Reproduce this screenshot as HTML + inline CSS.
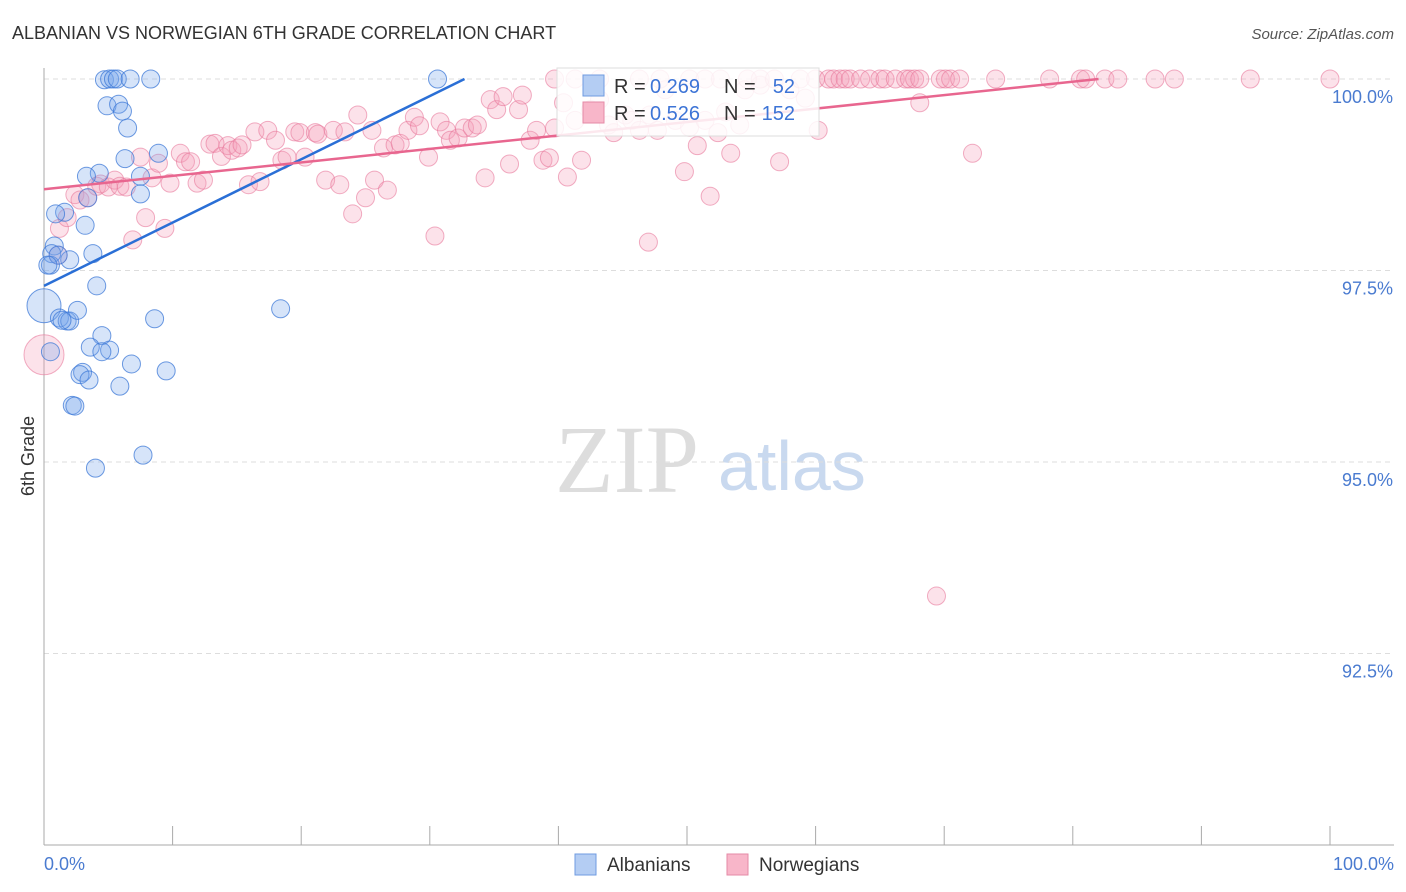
<!DOCTYPE html>
<html><head><meta charset="utf-8"><style>
body{margin:0;background:#fff;font-family:"Liberation Sans",sans-serif}
#wrap{position:relative;width:1406px;height:892px;overflow:hidden}
</style></head><body>
<div id="wrap">
<svg id="svg" width="1406" height="892" xmlns="http://www.w3.org/2000/svg">
<text x="12" y="39" font-size="18" fill="#333">ALBANIAN VS NORWEGIAN 6TH GRADE CORRELATION CHART</text>
<text x="1394" y="39" font-size="15" fill="#555" font-style="italic" text-anchor="end">Source: ZipAtlas.com</text>
<text x="34" y="456" font-size="18" fill="#333" transform="rotate(-90 34 456)" text-anchor="middle">6th Grade</text>
<text x="555" y="492" font-size="96" fill="#ddd" font-family="Liberation Serif,serif">ZIP</text>
<text x="718" y="490" font-size="70" fill="#c9d9ef">atlas</text>
<g id="grid"></g><g id="pts"></g><g id="lines"></g>
</svg>
</div>
<script>
const yTicks=[100,97.5,95,92.5];
const yTickLabels=["100.0%","97.5%","95.0%","92.5%"];
const blueX=[4.7,5.1,5.4,5.7,6.7,8.3,30.6,4.9,5.8,6.1,6.5,6.3,8.9,4.3,3.3,7.5,1.6,0.9,7.5,3.4,3.2,0.8,0.6,2.0,3.8,0.5,4.1,0.0,1.2,1.8,2.0,2.6,18.4,8.6,4.5,3.6,5.1,4.5,0.5,3.0,2.8,3.5,6.8,9.5,5.9,2.2,2.4,4.0,7.7,1.4,1.1,0.3];
const blueY=[99.99,100,100,100,100,100,100,99.65,99.67,99.58,99.36,98.96,99.03,98.77,98.73,98.73,98.26,98.24,98.50,98.45,98.09,97.82,97.72,97.64,97.72,97.57,97.30,97.04,96.88,96.84,96.84,96.98,97.00,96.87,96.65,96.50,96.46,96.44,96.44,96.17,96.14,96.07,96.28,96.19,95.99,95.74,95.73,94.92,95.09,96.85,97.70,97.57];
const pinkX=[1.1,1.2,1.8,2.4,2.8,3.4,4.1,4.4,5.0,5.5,5.9,6.4,6.9,7.5,7.9,8.4,8.9,9.4,9.8,10.6,11.0,11.4,11.9,12.4,12.9,13.3,13.8,14.3,14.6,15.1,15.4,15.9,16.4,16.8,17.4,18.0,18.5,18.9,19.5,19.9,20.3,21.1,21.3,21.9,22.5,23.0,23.4,24.0,24.4,25.0,25.5,25.7,26.4,26.7,27.3,27.7,28.3,28.8,29.2,29.9,30.4,30.8,31.3,31.6,32.2,32.7,33.3,33.7,34.3,34.7,35.2,35.7,36.2,36.9,37.2,37.8,38.3,38.8,39.3,39.7,40.4,40.7,41.3,41.8,42.5,43.2,43.9,44.3,45.2,45.7,46.3,47.0,47.1,47.7,48.3,49.1,49.8,50.2,50.8,51.4,51.8,52.4,53.0,53.4,54.1,54.5,55.7,57.2,58.0,59.2,60.2,68.1,72.2,69.4,
39.7,41.3,43.2,46.3,47.9,50.2,51.4,52.6,54.7,55.7,56.8,58.8,60.0,61.0,61.4,61.9,62.3,62.7,63.5,64.2,65.0,65.4,66.2,67.0,67.3,67.7,68.1,69.7,70.1,70.5,71.2,74.0,78.2,80.6,81.0,82.5,83.5,86.4,87.9,93.8,100];
const pinkY=[97.70,98.05,98.19,98.49,98.42,98.45,98.60,98.63,98.59,98.68,98.60,98.59,97.90,98.98,98.19,98.71,98.90,98.05,98.64,99.03,98.92,98.92,98.64,98.68,99.15,99.16,98.99,99.13,99.07,99.10,99.14,98.62,99.31,98.66,99.33,99.20,98.94,98.98,99.31,99.30,98.98,99.30,99.28,98.68,99.33,98.62,99.31,98.24,99.53,98.45,99.33,98.68,99.10,98.55,99.14,99.16,99.33,99.50,99.39,98.98,97.95,99.44,99.33,99.20,99.23,99.36,99.36,99.40,98.71,99.73,99.60,99.77,98.89,99.60,99.79,99.20,99.33,98.94,98.97,99.36,99.69,98.72,99.46,98.94,99.60,99.73,99.40,99.30,99.53,99.46,99.33,97.87,99.53,99.33,99.86,99.46,98.79,99.37,99.13,99.46,98.47,99.30,99.57,99.03,99.40,99.86,99.92,98.92,99.86,99.75,99.33,99.69,99.03,93.25,
100,100,100,100,100,100,100,100,100,100,100,100,100,100,100,100,100,100,100,100,100,100,100,100,100,100,100,100,100,100,100,100,100,100,100,100,100,100,100,100,100];
const blueLineX=[0,32.7], blueLineY=[97.30,100];
const pinkLineX=[0,82], pinkLineY=[98.56,100];
const X0=44,X1=1330,YTOP=79;
const sx=v=>X0+(X1-X0)*v/100;
const sy=v=>YTOP+(100-v)*76.6;
const NS="http://www.w3.org/2000/svg";
function mk(tag,attrs,parent,txt){const e=document.createElementNS(NS,tag);for(const k in attrs)e.setAttribute(k,attrs[k]);if(txt!==undefined)e.textContent=txt;parent.appendChild(e);return e;}
const grid=document.getElementById('grid');
yTicks.forEach((t,i)=>{
 const l=mk('line',{x1:44,x2:1394,y1:sy(t),y2:sy(t),stroke:'#ddd','stroke-dasharray':'5,4'},grid);
 
 
 const tx=mk('text',{x:1393,y:sy(t)+24,'font-size':18,fill:'#4a7bd0','text-anchor':'end'},grid,yTickLabels[i]);
 
 
});
const ax=mk('line',{x1:44,x2:44,y1:68,y2:845,stroke:'#aaa'},grid);


const bx=mk('line',{x1:44,x2:1394,y1:845,y2:845,stroke:'#aaa'},grid);


for(let i=0;i<=10;i++){const t=mk('line',{x1:sx(i*10),x2:sx(i*10),y1:826,y2:845,stroke:'#aaa'},grid);
 
 }
const xl0=mk('text',{x:44,y:870,'font-size':18,fill:'#4a7bd0'},grid,'0.0%');


const xl1=mk('text',{x:1394,y:870,'font-size':18,fill:'#4a7bd0','text-anchor':'end'},grid,'100.0%');


const pts=document.getElementById('pts');
pinkX.forEach((x,i)=>{const c=mk('circle',{cx:sx(x),cy:sy(pinkY[i]),r:9,fill:'rgba(244,160,185,0.3)',stroke:'rgba(232,120,155,0.6)','stroke-width':1},pts);
 
 });
const bigP=mk('circle',{cx:sx(0),cy:sy(96.4),r:20,fill:'rgba(244,160,185,0.3)',stroke:'rgba(232,120,155,0.6)'},pts);


blueX.forEach((x,i)=>{const c=mk('circle',{cx:sx(x),cy:sy(blueY[i]),r:(i==27?17:9),fill:'rgba(120,165,235,0.3)',stroke:'rgba(60,120,215,0.75)','stroke-width':1},pts);
 
 });
const lines=document.getElementById('lines');
const bl=mk('line',{x1:sx(blueLineX[0]),y1:sy(blueLineY[0]),x2:sx(blueLineX[1]),y2:sy(blueLineY[1]),stroke:'#2a6fd6','stroke-width':2.5},lines);


const pl=mk('line',{x1:sx(pinkLineX[0]),y1:sy(pinkLineY[0]),x2:sx(pinkLineX[1]),y2:sy(pinkLineY[1]),stroke:'#e8668f','stroke-width':2.5},lines);


// legend box
const lg=mk('g',{},lines);


mk('rect',{x:557,y:68,width:262,height:68,fill:'rgba(255,255,255,0.85)',stroke:'#ddd'},lg);
mk('rect',{x:583,y:75,width:21,height:21,fill:'#b4cdf3',stroke:'#6f9be0'},lg);
mk('rect',{x:583,y:102,width:21,height:21,fill:'#f8b6c9',stroke:'#e58aa6'},lg);
const rows=[["0.269"," 52",93],["0.526","152",120]];
rows.forEach(r=>{
 mk('text',{x:614,y:r[2],'font-size':20,fill:'#333'},lg,'R = ');
 mk('text',{x:650,y:r[2],'font-size':20,fill:'#3d74d6'},lg,r[0]);
 mk('text',{x:724,y:r[2],'font-size':20,fill:'#333'},lg,'N = ');
 mk('text',{x:795,y:r[2],'font-size':20,fill:'#3d74d6','text-anchor':'end'},lg,r[1]);
});
// bottom legend
const bl2=mk('g',{},lines);


mk('rect',{x:575,y:854,width:21,height:21,fill:'#b4cdf3',stroke:'#6f9be0'},bl2);
mk('text',{x:607,y:871,'font-size':19,fill:'#333'},bl2,'Albanians');
mk('rect',{x:727,y:854,width:21,height:21,fill:'#f8b6c9',stroke:'#e58aa6'},bl2);
mk('text',{x:759,y:871,'font-size':19,fill:'#333'},bl2,'Norwegians');
</script>
</body></html>
